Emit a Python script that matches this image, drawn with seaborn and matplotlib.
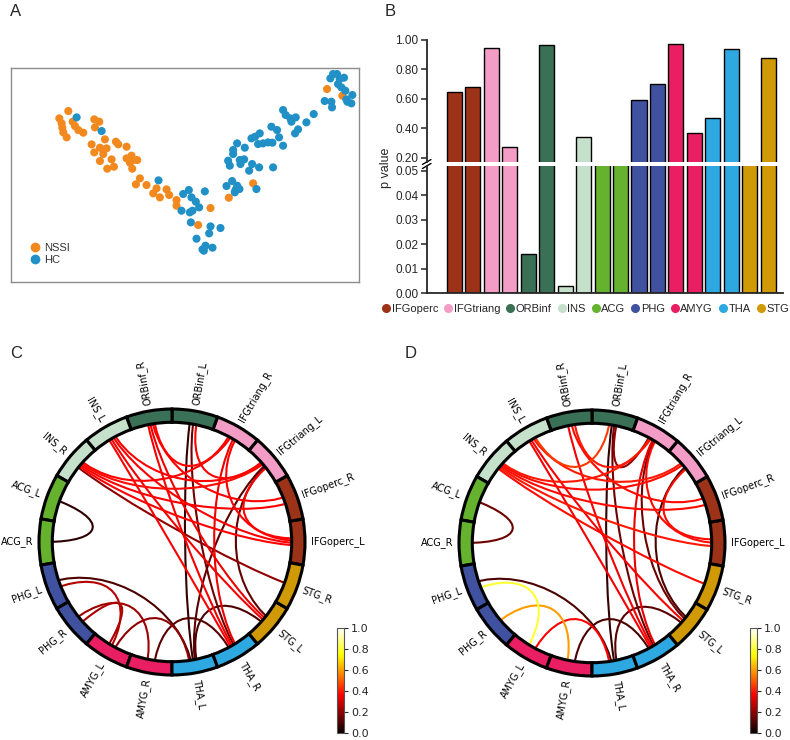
import numpy as np
import pandas as pd
import matplotlib
matplotlib.use("Agg")
import matplotlib.pyplot as plt
from matplotlib.path import Path
from matplotlib.patches import PathPatch
from matplotlib.lines import Line2D
import seaborn as sns

sns.set_style("white")
plt.rcParams['font.family'] = ['Liberation Sans', 'DejaVu Sans']

# ---------------- data ----------------
# panel A: 2-D embedding of subjects
nssi_x = [20.5, 17.8, 18.5, 18.7, 19.0, 20.0, 21.8, 22.5, 23.5, 25.0, 28.3, 29.8, 28.5, 31.5, 34.8, 35.5,
          38.0, 27.5, 30.0, 32.0, 28.3, 31.0, 33.5, 30.0, 32.2, 34.2, 38.0, 39.5, 40.0, 41.2, 39.0, 39.7,
          42.0, 40.8, 44.0, 47.0, 46.0, 48.0, 50.0, 50.8, 53.0, 53.0, 63.2, 59.5, 68.7, 76.0, 98.2, 102.8]
nssi_y = [-33.3, -35.5, -37.0, -38.3, -39.7, -41.2, -36.5, -37.8, -39.0, -39.8, -35.8, -36.5, -38.2, -41.8,
          -42.5, -43.3, -44.0, -43.3, -44.3, -44.5, -45.7, -46.2, -47.8, -48.3, -50.6, -50.0, -47.5, -46.7,
          -48.0, -48.0, -48.8, -50.6, -53.5, -55.3, -55.5, -56.5, -58.0, -59.2, -56.8, -58.5, -60.0, -61.7,
          -62.4, -67.5, -59.3, -55.0, -26.7, -28.7]
hc_x = [23.0, 30.5, 47.6, 55.0, 56.7, 57.5, 58.8, 59.8, 61.5, 54.5, 57.0, 57.8, 57.3, 63.2, 66.2, 62.8,
        59.0, 60.8, 61.7, 63.8, 61.2, 68.0, 69.7, 71.2, 70.7, 71.9, 70.5, 77.0, 68.5, 70.0, 70.0, 71.2,
        73.5, 69.0, 72.0, 72.2, 73.3, 75.7, 74.8, 77.8, 82.0, 75.5, 76.6, 78.0, 77.5, 79.0, 80.5, 81.8,
        81.5, 83.2, 83.8, 85.0, 85.0, 85.8, 87.2, 87.5, 88.8, 88.6, 89.5, 92.0, 94.2, 97.5, 99.5, 99.7,
        100.0, 99.2, 101.2, 102.0, 103.3, 101.5, 102.5, 103.7, 105.8, 104.0, 105.5, 104.3]
hc_y = [-35.2, -39.3, -54.1, -58.2, -57.0, -59.2, -60.5, -62.2, -57.4, -63.2, -63.7, -63.2, -66.7, -67.9,
        -68.4, -70.0, -71.6, -74.8, -73.7, -74.3, -75.2, -55.8, -54.3, -55.7, -57.0, -56.7, -57.7, -56.7,
        -48.2, -46.2, -45.0, -43.0, -44.3, -49.7, -48.0, -49.2, -47.8, -49.2, -51.2, -50.2, -50.2, -41.5,
        -41.0, -40.0, -43.2, -43.0, -42.7, -42.8, -38.0, -39.0, -41.2, -43.7, -33.0, -34.5, -35.5, -36.5,
        -35.2, -40.0, -38.8, -36.7, -34.2, -30.3, -30.5, -32.2, -22.2, -23.5, -22.2, -23.7, -23.3, -25.2,
        -26.2, -27.2, -28.5, -29.8, -31.0, -30.5]

# regions and nodes
regions = ["IFGoperc", "IFGtriang", "ORBinf", "INS", "ACG", "PHG", "AMYG", "THA", "STG"]
region_colors = ["#9c3318", "#f29cc6", "#3a7056", "#c5e1cb", "#65b22f",
                 "#4051a0", "#e91e63", "#2da8e1", "#cf9a05"]
nodes = [r + s for r in regions for s in ("_L", "_R")]
node_colors = [c for c in region_colors for _ in range(2)]

# panel B: p values per node
p_values = [0.647, 0.678, 0.947, 0.273, 0.0162, 0.964, 0.0028, 0.338, 0.12, 0.10,
            0.589, 0.698, 0.976, 0.371, 0.469, 0.940, 0.11, 0.876]

# panel C: connections
c_src = ["ACG_L", "INS_R", "INS_R", "INS_R", "INS_R", "INS_R", "INS_L", "INS_L", "INS_L", "INS_L",
         "ORBinf_R", "ORBinf_R", "ORBinf_R", "ORBinf_R", "ORBinf_L", "ORBinf_L", "ORBinf_L",
         "IFGtriang_L", "IFGtriang_R", "IFGtriang_L", "IFGtriang_L", "PHG_L", "PHG_L", "PHG_R",
         "AMYG_L", "AMYG_R", "THA_L", "PHG_R", "IFGtriang_R"]
c_dst = ["ACG_R", "IFGoperc_R", "IFGoperc_L", "IFGtriang_R", "IFGtriang_L", "STG_R", "THA_R", "STG_L",
         "IFGtriang_L", "IFGoperc_L", "THA_R", "IFGtriang_R", "STG_L", "IFGoperc_R", "THA_L", "THA_R",
         "IFGtriang_L", "IFGoperc_L", "IFGoperc_L", "THA_L", "STG_L", "THA_L", "AMYG_L", "AMYG_R",
         "THA_L", "THA_R", "STG_L", "AMYG_L", "THA_R"]
c_val = [0.05, 0.36, 0.37, 0.36, 0.38, 0.20, 0.36, 0.35, 0.37, 0.36,
         0.35, 0.37, 0.34, 0.37, 0.06, 0.15, 0.36,
         0.37, 0.36, 0.12, 0.13, 0.10, 0.25, 0.22,
         0.20, 0.12, 0.10, 0.24, 0.34]

# panel D: connections
d_src = ["ACG_L", "PHG_L", "PHG_R", "PHG_L", "AMYG_L", "AMYG_R", "THA_L", "ORBinf_L", "ORBinf_L",
         "IFGtriang_L", "IFGtriang_R", "INS_R", "INS_R", "INS_R", "INS_R", "INS_R", "INS_L", "INS_L",
         "INS_L", "INS_L", "ORBinf_R", "ORBinf_R", "ORBinf_R", "IFGtriang_R", "IFGtriang_L", "ORBinf_L",
         "IFGtriang_R"]
d_dst = ["ACG_R", "AMYG_L", "AMYG_R", "THA_L", "THA_L", "THA_R", "STG_L", "THA_L", "THA_R",
         "STG_L", "STG_L", "IFGoperc_R", "IFGoperc_L", "IFGtriang_L", "IFGtriang_R", "STG_R", "THA_R",
         "STG_L", "IFGtriang_L", "ORBinf_L", "IFGtriang_R", "THA_R", "IFGoperc_R", "IFGoperc_L",
         "IFGoperc_L", "IFGtriang_R", "THA_R"]
d_val = [0.15, 0.80, 0.60, 0.10, 0.37, 0.10, 0.12, 0.06, 0.15,
         0.10, 0.15, 0.38, 0.40, 0.38, 0.40, 0.38, 0.35,
         0.36, 0.40, 0.45, 0.40, 0.35, 0.38, 0.38,
         0.38, 0.20, 0.33]

W, H = 790, 740
fig = plt.figure(figsize=(W / 100, H / 100), dpi=100)


def rect(x0, y0, x1, y1):
    # pixel box (top-left origin) -> figure fraction
    return [x0 / W, 1 - y1 / H, (x1 - x0) / W, (y1 - y0) / H]


# ---------------- A ----------------
axA = fig.add_axes(rect(10.7, 67.7, 359, 281.7))
dfA = pd.DataFrame({"x": nssi_x + hc_x, "y": nssi_y + hc_y,
                    "group": ["NSSI"] * len(nssi_x) + ["HC"] * len(hc_x)})
sns.scatterplot(data=dfA, x="x", y="y", hue="group", palette={"NSSI": "#f2891f", "HC": "#2090c6"},
                s=34, linewidth=0, ax=axA, legend=False)
axA.set_xlim(3.2, 107.8)
axA.set_ylim(-84.5, -20.3)
axA.set_xticks([])
axA.set_yticks([])
axA.set_xlabel("")
axA.set_ylabel("")
for sp in axA.spines.values():
    sp.set_color("#8c8c8c")
    sp.set_linewidth(1.0)
hA = [Line2D([], [], marker="o", ls="", color="#f2891f", markersize=6, label="NSSI"),
      Line2D([], [], marker="o", ls="", color="#2090c6", markersize=6, label="HC")]
axA.legend(handles=hA, loc="lower left", bbox_to_anchor=(0.025, 0.03), frameon=False, fontsize=8,
           handletextpad=0.3, labelspacing=0.25, handlelength=1.0, labelcolor="#333333")

# ---------------- B ----------------
axBt = fig.add_axes(rect(426.7, 40, 783, 162))
axBb = fig.add_axes(rect(426.7, 166, 783, 293.3))
dfB = pd.DataFrame({"node": nodes, "p": p_values})
for ax in (axBt, axBb):
    sns.barplot(data=dfB, x="node", y="p", hue="node", palette=node_colors, edgecolor="black",
                linewidth=1.0, width=0.82, saturation=1, legend=False, ax=ax)
    ax.set_xlim(-1.5, 17.8)
    ax.set_xlabel("")
    ax.set_ylabel("")
    ax.set_xticks([])
    for sp in ("top", "right"):
        ax.spines[sp].set_visible(False)
    ax.spines["left"].set_linewidth(1.3)
    ax.tick_params(axis="y", left=True, length=4, width=1.1, labelsize=8.5, pad=2)
axBt.set_ylim(0.171, 1.0)
axBt.set_yticks([0.2, 0.4, 0.6, 0.8, 1.0])
axBt.set_yticklabels([f"{v:.2f}" for v in [0.2, 0.4, 0.6, 0.8, 1.0]])
axBt.spines["bottom"].set_visible(False)
axBb.set_ylim(0, 0.052)
axBb.set_yticks([0, 0.01, 0.02, 0.03, 0.04, 0.05])
axBb.set_yticklabels([f"{v:.2f}" for v in [0, 0.01, 0.02, 0.03, 0.04, 0.05]])
axBb.spines["bottom"].set_linewidth(1.3)
# break marks on the y axis
for ax, yy in ((axBt, 0.0), (axBb, 1.0)):
    ax.plot([-0.012, 0.012], [yy - 0.02, yy + 0.02], transform=ax.transAxes, color="black",
            lw=1.0, clip_on=False)
fig.text(386 / W, 1 - 168 / H, "p value", rotation=90, ha="center", va="center", fontsize=9)

hB = [Line2D([], [], marker="o", ls="", color=c, markersize=5.5, label=r)
      for r, c in zip(regions, region_colors)]
fig.legend(handles=hB, loc="center", bbox_to_anchor=(585 / W, 1 - 309 / H), ncol=9, frameon=False,
           fontsize=8, handletextpad=0.05, columnspacing=0.45, handlelength=0.9)

# ---------------- C / D chord diagrams ----------------
cmap = plt.get_cmap("hot")
norm = plt.Normalize(0, 1)
n = len(nodes)
ang_deg = np.arange(n) * 360.0 / n
ang = np.deg2rad(ang_deg)
node_w = 2 * np.pi / n
idx = {name: k for k, name in enumerate(nodes)}


def chord(ax, src, dst, val):
    ends = {k: [] for k in range(n)}
    for c, (a, b) in enumerate(zip(src, dst)):
        ends[idx[a]].append((c, 0, idx[b]))
        ends[idx[b]].append((c, 1, idx[a]))
    t = np.zeros((len(src), 2))
    for k, lst in ends.items():
        lst.sort(key=lambda e: (e[2] - k) % n)
        offs = np.linspace(0.08, -0.08, len(lst)) * node_w if len(lst) > 1 else [0.0]
        for (c, side, _), o in zip(lst, offs):
            t[c, side] = ang[k] + o
    for c in np.argsort(val):
        verts = [(t[c, 0], 9.6), (t[c, 0], 5), (t[c, 1], 5), (t[c, 1], 9.6)]
        codes = [Path.MOVETO, Path.CURVE4, Path.CURVE4, Path.CURVE4]
        ax.add_patch(PathPatch(Path(verts, codes), fill=False, edgecolor=cmap(norm(val[c])),
                               linewidth=1.5, zorder=2))
    ax.bar(ang, 1.0, width=node_w, bottom=9, color=node_colors, edgecolor="black",
           linewidth=2.2, align="center", zorder=3, clip_on=False)
    for name, a, ad in zip(nodes, ang, ang_deg):
        if 105 < ad < 270:
            rot, ha = ad - 180, "right"
        else:
            rot, ha = ad, "left"
        ax.text(a, 10.45, name, rotation=rot, rotation_mode="anchor", ha=ha, va="center",
                fontsize=7, family="DejaVu Sans", color="black")
    ax.set_ylim(0, 10)
    ax.grid(False)
    ax.set_xticks([])
    ax.set_yticks([])
    ax.spines["polar"].set_visible(False)


axC = fig.add_axes(rect(172 - 133, 542 - 133, 172 + 133, 542 + 133), projection="polar")
chord(axC, c_src, c_dst, c_val)
axD = fig.add_axes(rect(592 - 133, 543 - 133, 592 + 133, 543 + 133), projection="polar")
chord(axD, d_src, d_dst, d_val)

sm = plt.cm.ScalarMappable(norm=norm, cmap=cmap)
for x0 in (337, 750):
    cax = fig.add_axes(rect(x0, 628, x0 + 7, 733))
    cb = fig.colorbar(sm, cax=cax, ticks=[0, 0.2, 0.4, 0.6, 0.8, 1.0], format="%.1f")
    cb.outline.set_linewidth(0.8)
    cb.outline.set_edgecolor("#555555")
    cax.tick_params(labelsize=8, length=3, width=0.8, pad=2)
    for lab in cax.get_yticklabels():
        lab.set_family("DejaVu Sans")

# panel letters
for lab, x, y in (("A", 10, 4), ("B", 385, 4), ("C", 10, 346), ("D", 405, 346)):
    fig.text(x / W, 1 - y / H, lab, ha="left", va="top", fontsize=12)

fig.savefig("out.png", dpi=100)
